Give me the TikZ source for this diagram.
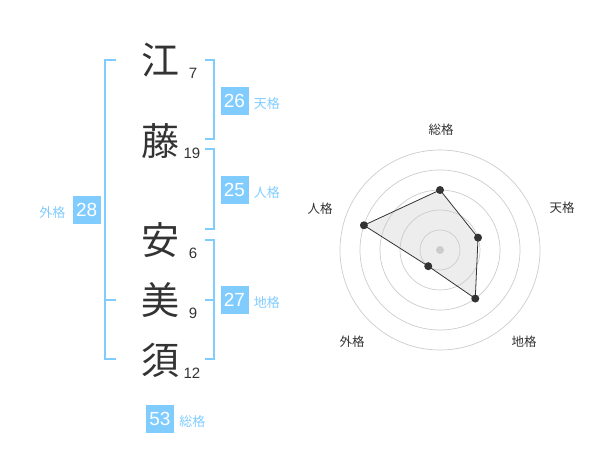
\documentclass[tikz,border=0pt]{standalone}
\usepackage{fontspec}
\setmainfont{Liberation Sans}
\newfontfamily\jp{Noto Sans CJK JP}
\usetikzlibrary{positioning}
\definecolor{kakublue}{RGB}{128,204,255}
\definecolor{kakutext}{RGB}{51,51,51}

\begin{document}
\begin{tikzpicture}[x=1pt, y=-1pt,
				   kanji/.style={font=\jp\fontsize{38}{38}\selectfont, text=kakutext, inner sep=0pt},
				   strokes/.style={font=\fontsize{15}{15}\selectfont, text=kakutext, inner sep=0pt},
				   score/.style={fill=kakublue, text=white, minimum size=28pt, inner sep=0pt, font=\fontsize{19}{19}\selectfont},
				   kaku/.style={font=\jp\fontsize{13}{13}\selectfont, text=kakublue, inner sep=0pt},
				   bracket/.style={draw=kakublue, line width=2pt},
				   ring/.style={draw=black!20, line width=0.7pt},
				   axislabel/.style={font=\jp\fontsize{12.5}{12.5}\selectfont, text=kakutext, inner sep=0pt},
				   vertex/.style={circle, fill=kakutext, minimum size=8pt, inner sep=0pt}]
\useasboundingbox (0,0) rectangle (600,470);
\node[kanji] (e) at (160,60) {江};
\node[kanji] (fuji) at (160,141) {藤};
\node[kanji] (an) at (160,240) {安};
\node[kanji] (mi) at (160,300) {美};
\node[kanji] (su) at (160,360) {須};
\node[strokes] (n7) at (193,73) {7};
\node[strokes] (n19) at (192,153) {19};
\node[strokes] (n6) at (193,253) {6};
\node[strokes] (n9) at (193,313) {9};
\node[strokes] (n12) at (192,373) {12};
\draw[bracket] (116,60) -- (105,60) -- (105,359) -- (116,359);
\draw[bracket] (105,300) -- (116,300);
\draw[bracket] (205,60) -- (214,60) -- (214,139) -- (205,139);
\draw[bracket] (205,149) -- (214,149) -- (214,229) -- (205,229);
\draw[bracket] (205,240) -- (214,240) -- (214,359) -- (205,359);
\draw[bracket] (214,300) -- (205,300);
\node[score] (ten) at (234.5,101) {26};
\node[kaku, right=5pt of ten, yshift=-3pt] (tenl) {天格};
\node[score] (jin) at (234.5,190) {25};
\node[kaku, right=5pt of jin, yshift=-3pt] (jinl) {人格};
\node[score] (chi) at (234.5,300) {27};
\node[kaku, right=5pt of chi, yshift=-3pt] (chil) {地格};
\node[score] (gai) at (86.7,210) {28};
\node[kaku, left=7pt of gai, yshift=-3pt] (gail) {外格};
\node[score] (sou) at (160,419) {53};
\node[kaku, right=5pt of sou, yshift=-3pt] (soul) {総格};
\begin{scope}[shift={(440,250)}]
	\fill[black!7] (-90:60) coordinate (rsou) -- (-18:40) coordinate (rten) -- (54:60) coordinate (rchi)
		-- (126:20) coordinate (rgai) -- (198:80) coordinate (rjin) -- cycle;
	\foreach \r in {20,40,...,100}
		\draw[ring] (0,0) circle[radius=\r];
	\fill[black!20] (0,0) circle[radius=4];
	\draw[kakutext, line width=0.8pt] (rsou) -- (rten) -- (rchi) -- (rgai) -- (rjin) -- cycle;
	\foreach \p in {rsou,rten,rchi,rgai,rjin}
		\node[vertex] at (\p) {};
\end{scope}
\node[axislabel] (asou) at (441,130) {総格};
\node[axislabel] (aten) at (562,208) {天格};
\node[axislabel] (ajin) at (320,209) {人格};
\node[axislabel] (agai) at (352,342) {外格};
\node[axislabel] (achi) at (524,342) {地格};
\end{tikzpicture}
\end{document}
